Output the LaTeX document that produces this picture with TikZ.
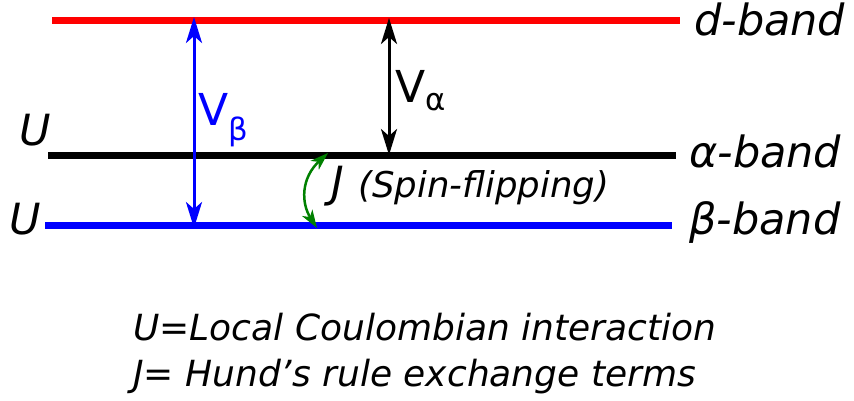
\documentclass[tikz,border=0pt]{standalone}
\usepackage{fontspec}
\setmainfont{DejaVu Sans}
\usetikzlibrary{arrows.meta}

\begin{document}
\begin{tikzpicture}[x=1pt, y=-1pt,
    >={Stealth[length=26pt, width=16pt, inset=7pt]},
    band/.style={line width=7pt},
    bandlabel/.style={font=\fontsize{43}{50}\selectfont\itshape, inner sep=0pt, anchor=base west},
    vlabel/.style={font=\fontsize{44}{50}\selectfont, inner sep=0pt, anchor=base west},
    legend/.style={font=\fontsize{36}{42}\selectfont\itshape, inner sep=0pt, anchor=base west},
    gap/.style={<->, line width=3pt}]
    \useasboundingbox (0,0) rectangle (854,400);

    % Band lines
    \coordinate (dL) at (52,20);
    \coordinate (dR) at (680,20);
    \coordinate (aL) at (48,155);
    \coordinate (aR) at (676,155);
    \coordinate (bL) at (45,225);
    \coordinate (bR) at (672,225);
    \draw[band, red] (dL) -- (dR);
    \draw[band, black] (aL) -- (aR);
    \draw[band, blue] (bL) -- (bR);

    % Band labels
    \node[bandlabel] (dlab) at (694,35) {d-band};
    \node[bandlabel] (alab) at (689,167) {α-band};
    \node[bandlabel] (blab) at (689,234) {β-band};
    \node[bandlabel] (uA) at (19,145) {U};
    \node[bandlabel] (uB) at (9,234) {U};

    % Gap arrows
    \coordinate (vbTop) at (194,17);
    \coordinate (vbBot) at (194,228);
    \coordinate (vaTop) at (389,18);
    \coordinate (vaBot) at (389,155);
    \draw[gap, blue] (vbTop) -- (vbBot);
    \draw[gap, black] (vaTop) -- (vaBot);
    \node[vlabel, blue] (vb) at (198,125) {V\textsubscript{β}};
    \node[vlabel] (va) at (395,102) {V\textsubscript{α}};

    % Spin flip
    \coordinate (jBot) at (317,228);
    \coordinate (jTop) at (328,153);
    \draw[{Stealth[length=18pt, width=12pt, inset=5pt]}-{Stealth[length=18pt, width=12pt, inset=5pt]}, line width=2.5pt, green!50!black]
        (jBot) .. controls (301,203) and (301,178) .. (jTop);
    \node[bandlabel] (j) at (331,197) {J};
    \node[font=\fontsize{35.5}{40}\selectfont\itshape, inner sep=0pt, anchor=base west] (spin) at (358,197) {(Spin-flipping)};

    % Legend
    \node[legend] (leg1) at (133,340) {U=Local Coulombian interaction};
    \node[legend] (leg2) at (133,386) {J= Hund’s rule exchange terms};
\end{tikzpicture}
\end{document}
